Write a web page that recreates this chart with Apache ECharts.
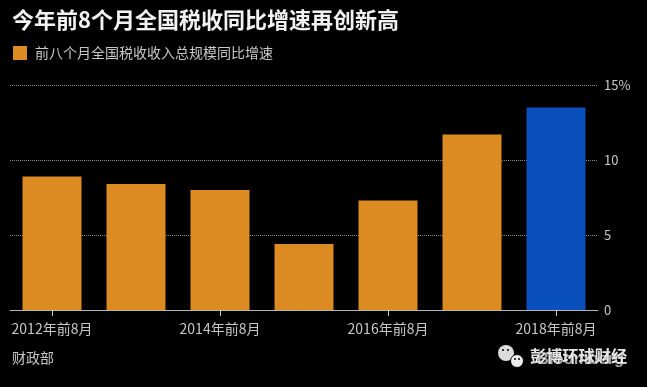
<!DOCTYPE html>
<html><head><meta charset="utf-8">
<style>html,body{margin:0;padding:0;background:#000}#c{width:647px;height:387px}</style>
<script src="https://cdn.jsdelivr.net/npm/echarts@6/dist/echarts.min.js"></script>
</head><body><div id="c"></div>
<script>
const categories=['2012年前8月','2013年前8月','2014年前8月','2015年前8月','2016年前8月','2017年前8月','2018年前8月'];
const growth=[8.9,8.4,8.0,4.4,7.3,11.7,13.5];
const seriesName='前八个月全国税收收入总规模同比增速';
const titleText='今年前8个月全国税收同比增速再创新高';
const sourceText='财政部';
const orange='#dc8b22', blue='#0a50bd';
const font='"Noto Sans CJK SC","Noto Sans",sans-serif';
const chart=echarts.init(document.getElementById('c'),null,{renderer:'canvas'});
chart.setOption({
 animation:false,
 backgroundColor:'#000',
 title:{text:titleText,left:12,top:9,padding:0,textStyle:{color:'#f2f2f2',fontSize:22,fontWeight:'bold',fontFamily:font}},
 legend:{left:13,top:46,padding:0,itemWidth:14,itemHeight:14,itemGap:8,icon:'rect',selectedMode:false,
  textStyle:{color:'#c8c8c8',fontSize:14,fontFamily:font,padding:[0,0,0,3]}},
 grid:{left:10,right:49,top:85,bottom:77},
 xAxis:{type:'category',data:categories,
  axisLine:{lineStyle:{color:'#b5b5b5',width:1}},
  axisTick:{show:true,alignWithLabel:true,interval:1,length:6,lineStyle:{color:'#c8c8c8'}},
  axisLabel:{interval:1,color:'#c8c8c8',fontSize:14,margin:12,fontFamily:font}},
 yAxis:{type:'value',position:'right',min:0,max:15,interval:5,
  axisLine:{show:false},axisTick:{show:false},
  axisLabel:{color:'#c8c8c8',fontSize:13,margin:6,fontFamily:font,
   formatter:v=>v===15?v+'%':String(v)},
  splitLine:{lineStyle:{color:'#8a8a8a',type:'dotted',width:1}}},
 series:[{name:seriesName,type:'bar',barWidth:59,
  itemStyle:{color:orange},
  data:growth.map((v,i)=>i===growth.length-1?{value:v,itemStyle:{color:blue}}:v)}],
 graphic:[
  {type:'text',left:12,top:351,style:{text:sourceText,fill:'#c8c8c8',fontSize:14,fontFamily:font}},
  {type:'text',left:537,top:351,style:{text:'Bloomberg',fill:'#a8a8a8',fontSize:16.5,fontWeight:'bold',fontFamily:'"Liberation Sans",sans-serif'}},
  {type:'text',left:530,top:348,style:{text:'彭博环球财经',fill:'#e6e6e6',fontSize:16.2,fontWeight:'bold',fontFamily:font}},
  {type:'circle',shape:{cx:506,cy:353,r:8},style:{fill:'#dcdcdc'}},
  {type:'circle',shape:{cx:517,cy:361,r:6.5},style:{fill:'#ededed',stroke:'#000',lineWidth:1}},
  {type:'circle',shape:{cx:503,cy:350,r:1},style:{fill:'#000'}},
  {type:'circle',shape:{cx:508,cy:350,r:1},style:{fill:'#000'}},
  {type:'circle',shape:{cx:515,cy:359,r:1},style:{fill:'#000'}},
  {type:'circle',shape:{cx:519,cy:359,r:1},style:{fill:'#000'}}
 ]
});
</script></body></html>
